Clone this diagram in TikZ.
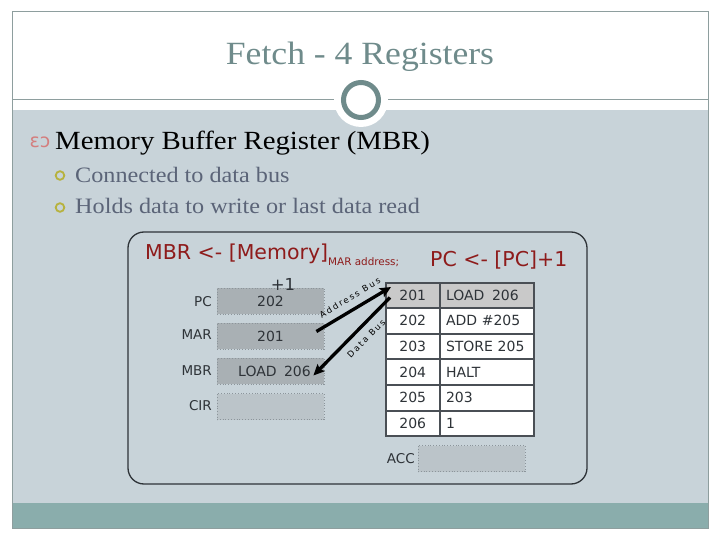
\documentclass[tikz,border=0pt]{standalone}
\usepackage{fontspec}
\setmainfont{Liberation Serif}
\newfontfamily\geo[FakeStretch=1.1]{Liberation Serif}
\newfontfamily\dv{DejaVu Sans}
\newfontfamily\dvsp[LetterSpace=22]{DejaVu Sans}
\usetikzlibrary{calc,arrows.meta}
\definecolor{framec}{HTML}{8E9E9E}
\definecolor{bodyc}{HTML}{C8D3D9}
\definecolor{barc}{HTML}{8AADAC}
\definecolor{titlec}{HTML}{6F8B8B}
\definecolor{subc}{HTML}{5B6478}
\definecolor{ringc}{HTML}{B7B23F}
\definecolor{pinkc}{HTML}{D47E7E}
\definecolor{redc}{HTML}{8E1B1B}
\definecolor{regdark}{HTML}{A9B0B4}
\definecolor{reglight}{HTML}{BBC4C9}
\definecolor{regborder}{HTML}{8C959B}
\definecolor{tabborder}{HTML}{4A4F55}
\definecolor{rowgray}{HTML}{C9C9C9}
\definecolor{txtdark}{HTML}{2E3338}
\tikzset{
  reg/.style={draw=regborder, dotted, line width=0.8pt, minimum width=107pt, minimum height=26pt,
    inner sep=0pt, font=\dv\fontsize{14}{14}\selectfont, text=txtdark},
  reglabel/.style={anchor=east, inner sep=0pt, font=\dv\fontsize{13.5}{13.5}\selectfont, text=txtdark},
  addrcell/.style={draw=tabborder, line width=1pt, fill=white, minimum width=52.5pt, minimum height=24.6pt,
    inner sep=0pt, anchor=north west, text height=10pt, text depth=0pt,
    font=\dv\fontsize{14}{14}\selectfont, text=txtdark},
  contcell/.style={draw=tabborder, line width=1pt, fill=white, text width=81.5pt, align=left,
    minimum height=24.6pt, inner xsep=6pt, inner ysep=0pt, anchor=north west, text height=10pt, text depth=0pt,
    font=\dv\fontsize{14}{14}\selectfont, text=txtdark},
  bus/.style={line width=3.3pt, black, -{Stealth[length=11pt,width=10pt,inset=2pt]}},
  buslabel/.style={font=\dvsp\fontsize{8.5}{8.5}\selectfont, text=black, inner sep=0pt},
  subtext/.style={anchor=base west, inner sep=0pt, font=\geo\fontsize{22}{22}\selectfont, text=subc},
  subring/.style={draw=ringc, line width=1.8pt}
}
\begin{document}
\begin{tikzpicture}[x=1pt,y=-1pt]
\useasboundingbox (0,0) rectangle (720,540);
\fill[white] (0,0) rectangle (720,540);
% slide background
\fill[bodyc] (12,110) rectangle (708,503);
\fill[barc] (12,503) rectangle (708,528);
\draw[framec, line width=1pt] (12,12) rectangle (708,528);
\draw[framec, line width=1pt] (12,100) -- (708,100);
\fill[white] (361,100) circle (27);
\draw[titlec, line width=5pt, fill=white] (361,100) circle (17.5);
% title
\node[anchor=base, inner sep=0pt, font=\geo\fontsize{32.4}{34}\selectfont, text=titlec] (title) at (360,65) {Fetch - 4 Registers};
% bullets
\node[anchor=center, inner sep=0pt, font=\dv\fontsize{19}{19}\selectfont, text=pinkc] (b0) at (40,142) {ɛɔ};
\node[anchor=base west, inner sep=0pt, font=\geo\fontsize{26.2}{28}\selectfont, text=black] (h1) at (55,150) {Memory Buffer Register (MBR)};
\draw[subring] (60,175.5) circle (4.3);
\node[subtext] (s1) at (75,182.5) {Connected to data bus};
\draw[subring] (60,207.5) circle (4.3);
\node[subtext] (s2) at (75,214) {Holds data to write or last data read};
% inner frame
\draw[line width=1.3pt, draw=txtdark, rounded corners=16pt] (128,232) rectangle (587,484);
% headings in red
\node[anchor=base west, inner sep=0pt, font=\dv\fontsize{20.5}{21}\selectfont, text=redc] (eq1) at (145,259)
  {MBR <- [Memory]\raisebox{-6pt}{\fontsize{10.4}{10.4}\selectfont MAR address;}};
\node[anchor=base west, inner sep=0pt, font=\dv\fontsize{20.5}{21}\selectfont, text=redc] (eq2) at (430,266) {PC <- [PC]+1};
% registers
\node[reg, fill=regdark] (pc)  at (270.5,301) {202};
\node[reg, fill=regdark] (mar) at (270.5,336) {201};
\node[reg, fill=regdark] (mbr) at (270.5,371) {\hspace{8pt}LOAD\hspace{3pt} 206};
\node[reg, fill=reglight] (cir) at (270.5,406.5) {};
\node[reglabel] (lpc)  at (212,301.5) {PC};
\node[reglabel] (lmar) at (212,335) {MAR};
\node[reglabel] (lmbr) at (212,370.5) {MBR};
\node[reglabel] (lcir) at (212,405.5) {CIR};
\node[inner sep=0pt, font=\dv\fontsize{16.5}{16.5}\selectfont, text=txtdark] (plus) at (283,284) {+1};
% memory table
\node[addrcell, fill=rowgray] (a1) at (386,282.5) {201};
\node[contcell, fill=rowgray] (c1) at (a1.north east) {LOAD\hspace{3pt} 206};
\node[addrcell] (a2) at (a1.south west) {202};
\node[contcell] (c2) at (a2.north east) {ADD \#205};
\node[addrcell] (a3) at (a2.south west) {203};
\node[contcell] (c3) at (a3.north east) {STORE 205};
\node[addrcell] (a4) at (a3.south west) {204};
\node[contcell] (c4) at (a4.north east) {HALT};
\node[addrcell] (a5) at (a4.south west) {205};
\node[contcell] (c5) at (a5.north east) {203};
\node[addrcell] (a6) at (a5.south west) {206};
\node[contcell] (c6) at (a6.north east) {1};
\draw[tabborder, line width=1.5pt] (a1.north west) rectangle (c6.south east);
% ACC
\node[reg, fill=reglight] (acc) at (471.5,458.5) {};
\node[reglabel] (lacc) at (415,459) {ACC};
% buses
\draw[bus] ($(mar.east)+(-8,-4.5)$) -- node[buslabel, sloped, above=7pt, pos=0.53] {Address Bus} ($(a1.north west)+(5,4.5)$);
\draw[bus] ($(a1.north west)+(4,15)$) -- node[buslabel, sloped, below=7pt, pos=0.42] {Data Bus} ($(mbr.east)+(-11,4.5)$);
\end{tikzpicture}
\end{document}
